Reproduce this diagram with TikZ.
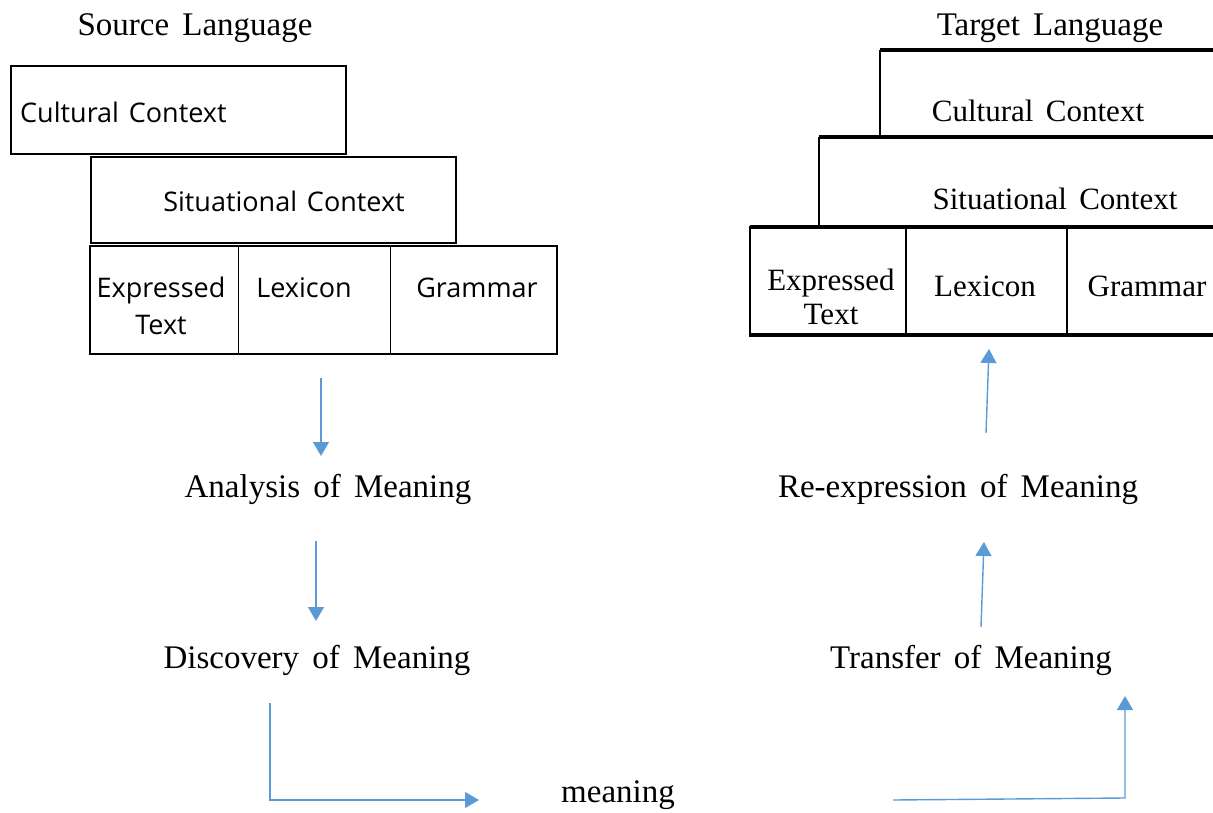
\documentclass[tikz,border=0pt]{standalone}
\usepackage{fontspec}
\setmainfont[WordSpace=1.6]{Liberation Serif}
\newfontfamily\boxsans[WordSpace=1.4]{Open Sans}
\usetikzlibrary{arrows.meta}
\definecolor{arrowblue}{RGB}{91,155,213}
\tikzset{
  serif32/.style={font=\fontsize{33}{38}\selectfont, inner sep=0pt},
  serif29/.style={font=\fontsize{31}{36}\selectfont, inner sep=0pt, align=center},
  sans26/.style={font=\boxsans\fontsize{27}{38}\selectfont, inner sep=0pt, align=center},
  lbox/.style={draw, line width=2pt, inner sep=0pt},
  rline/.style={line width=3.8pt},
  rdiv/.style={line width=2.5pt},
  flow/.style={draw=arrowblue, line width=1.4pt, -{Triangle[length=14pt,width=16pt]}},
}
\begin{document}
\begin{tikzpicture}[x=1pt,y=-1pt]
\useasboundingbox (0,0) rectangle (1213,813);
% titles
\node[serif32] (src) at (195,28) {Source Language};
\node[serif32] (tgt) at (1050,28) {Target Language};
% left stack
\node[lbox, minimum width=335pt, minimum height=88pt] (lcult) at (178.5,110) {};
\node[sans26, anchor=west] (lculttext) at (20,112) {Cultural Context};
\node[lbox, minimum width=365pt, minimum height=86pt] (lsit) at (273.5,200) {};
\node[sans26] (lsittext) at (284,201) {Situational Context};
\node[lbox, minimum width=467pt, minimum height=108pt] (ltab) at (323.5,300) {};
\draw[line width=1pt] (238,246) -- (238,354);
\draw[line width=1pt] (390,246) -- (390,354);
\node[sans26] (lexp) at (161,306) {Expressed\\[-0.05em]Text};
\node[sans26] (llex) at (304,288) {Lexicon};
\node[sans26] (lgram) at (477,288) {Grammar};
% right stack (cut at right edge)
\draw[rline] (1213,50) -- (880,50);
\draw[rdiv] (880,50) -- (880,137);
\draw[rline] (1213,137) -- (819,137);
\draw[rdiv] (819,137) -- (819,227);
\draw[rline] (1213,227) -- (750,227) ;
\draw[rdiv] (750,226) -- (750,336);
\draw[rline] (749,335) -- (1213,335);
\draw[rdiv] (906,227) -- (906,335);
\draw[rdiv] (1067,227) -- (1067,335);
\node[serif29] (rcult) at (1038,111) {Cultural Context};
\node[serif29] (rsit) at (1055,199) {Situational Context};
\node[serif29] (rexp) at (831,297) {Expressed\\[-0.05em]Text};
\node[serif29] (rlex) at (985,286) {Lexicon};
\node[serif29] (rgram) at (1147,286) {Grammar};
% process labels
\node[serif32] (anal) at (328,489) {Analysis of Meaning};
\node[serif32] (disc) at (317,660) {Discovery of Meaning};
\node[serif32] (reexp) at (958,489) {Re-expression of Meaning};
\node[serif32] (trans) at (971,660) {Transfer of Meaning};
\node[serif32] (mean) at (618,795) {meaning};
% arrow endpoints
\coordinate (a1s) at (321,378); \coordinate (a1e) at (321,456);
\coordinate (a2s) at (316,541); \coordinate (a2e) at (316,621);
\coordinate (a3s) at (270,703); \coordinate (a3c) at (270,800); \coordinate (a3e) at (479,800);
\coordinate (a4s) at (893,800); \coordinate (a4c) at (1125,798); \coordinate (a4e) at (1125,696);
\coordinate (a5s) at (981,627); \coordinate (a5e) at (984,542);
\coordinate (a6s) at (986,433); \coordinate (a6e) at (989,349);
\draw[flow] (a1s) -- (a1e);
\draw[flow] (a2s) -- (a2e);
\draw[flow] (a3s) -- (a3c) -- (a3e);
\draw[flow] (a4s) -- (a4c) -- (a4e);
\draw[flow] (a5s) -- (a5e);
\draw[flow] (a6s) -- (a6e);
\end{tikzpicture}
\end{document}
